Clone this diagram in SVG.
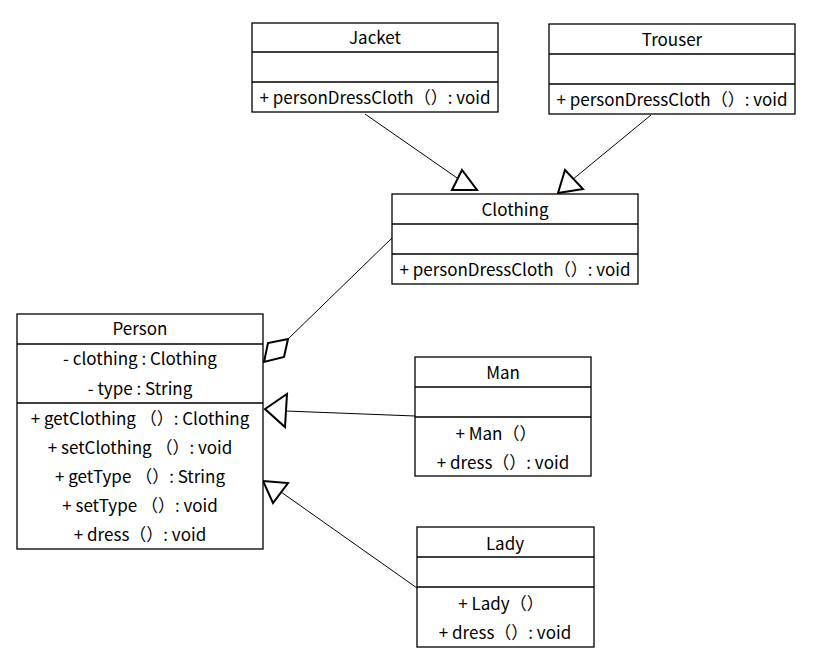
<svg xmlns="http://www.w3.org/2000/svg" width="830" height="657" viewBox="0 0 830 657">
<style>
.box{fill:#fff;stroke:#000;stroke-width:1.3}
.sep{stroke:#000;stroke-width:1.3}
text{font-family:"Noto Sans CJK SC","Microsoft YaHei",sans-serif;font-size:17px;fill:#000;text-anchor:middle}
.ln{stroke:#000;stroke-width:1;fill:none}
.hd{stroke:#000;stroke-width:2;fill:#fff;stroke-linejoin:miter}
</style>
<rect width="830" height="657" fill="#fff"/>
<g id="connectors">
<line class="ln" x1="365" y1="114" x2="460" y2="180"/>
<polygon class="hd" points="462,170 452,190 477,190"/>
<line class="ln" x1="651" y1="115" x2="572" y2="180"/>
<polygon class="hd" points="558,193 583,189 565,170"/>
<line class="ln" x1="392" y1="238" x2="288" y2="339"/>
<polygon class="hd" points="264,362 268,343 288,339 284,357"/>
<line class="ln" x1="415" y1="416" x2="286" y2="411"/>
<polygon class="hd" points="265,409 287,394 285,427"/>
<line class="ln" x1="417" y1="588" x2="281" y2="492"/>
<polygon class="hd" points="263,481 288,483 273,503"/>
</g>
<g id="Jacket">
<rect class="box" x="252" y="23" width="246" height="89"/>
<line class="sep" x1="252" y1="52" x2="498" y2="52"/>
<line class="sep" x1="252" y1="82" x2="498" y2="82"/>
<text x="375" y="44">Jacket</text>
<text x="375" y="104">+ personDressCloth（）: void</text>
</g>
<g id="Trouser">
<rect class="box" x="549" y="24" width="246" height="90"/>
<line class="sep" x1="549" y1="54" x2="795" y2="54"/>
<line class="sep" x1="549" y1="84" x2="795" y2="84"/>
<text x="672" y="46">Trouser</text>
<text x="672" y="106">+ personDressCloth（）: void</text>
</g>
<g id="Clothing">
<rect class="box" x="392" y="194" width="246" height="90"/>
<line class="sep" x1="392" y1="224" x2="638" y2="224"/>
<line class="sep" x1="392" y1="254" x2="638" y2="254"/>
<text x="515" y="216">Clothing</text>
<text x="515" y="276">+ personDressCloth（）: void</text>
</g>
<g id="Person">
<rect class="box" x="17" y="314" width="246" height="235"/>
<line class="sep" x1="17" y1="344" x2="263" y2="344"/>
<line class="sep" x1="17" y1="403" x2="263" y2="403"/>
<text x="140" y="335">Person</text>
<text x="140" y="365">- clothing : Clothing</text>
<text x="140" y="395">- type : String</text>
<text x="140" y="425">+ getClothing （）: Clothing</text>
<text x="140" y="454">+ setClothing （）: void</text>
<text x="140" y="483">+ getType （）: String</text>
<text x="140" y="512">+ setType （）: void</text>
<text x="140" y="541">+ dress（）: void</text>
</g>
<g id="Man">
<rect class="box" x="415" y="357" width="176" height="119"/>
<line class="sep" x1="415" y1="387" x2="591" y2="387"/>
<line class="sep" x1="415" y1="417" x2="591" y2="417"/>
<text x="503" y="379">Man</text>
<text x="496" y="440">+ Man（）</text>
<text x="503" y="469">+ dress（）: void</text>
</g>
<g id="Lady">
<rect class="box" x="417" y="527" width="177" height="120"/>
<line class="sep" x1="417" y1="557" x2="594" y2="557"/>
<line class="sep" x1="417" y1="587" x2="594" y2="587"/>
<text x="505" y="550">Lady</text>
<text x="501" y="610">+ Lady（）</text>
<text x="505" y="639">+ dress（）: void</text>
</g>
</svg>
